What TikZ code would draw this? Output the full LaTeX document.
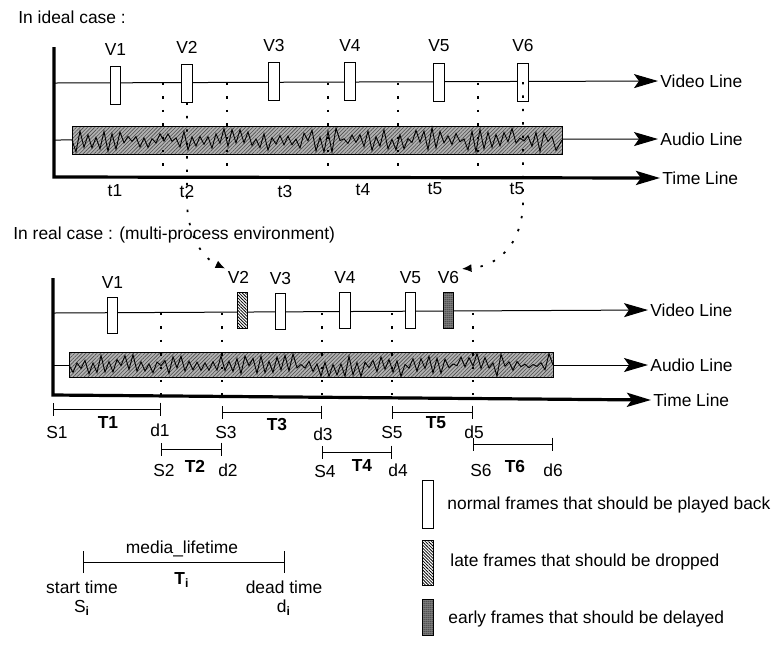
\documentclass[tikz,border=0pt]{standalone}
\usepackage{fontspec}
\setmainfont{Liberation Sans}
\usetikzlibrary{arrows.meta, patterns.meta}

\tikzset{
  txt/.style={font=\fontsize{8.7}{9.4}\selectfont, inner sep=1pt},
  frame/.style={draw, line width=0.5pt, minimum width=5.2pt, minimum height=19pt, inner sep=0pt},
  normalframe/.style={frame, fill=white},
  lateframe/.style={frame, preaction={fill=white}, pattern={Lines[angle=-45, distance=1.1pt, line width=0.4pt]}},
  earlyframe/.style={frame, preaction={fill=black!50}, pattern={Dots[distance=0.9pt, radius=0.28pt]}},
  audiobox/.style={draw, line width=0.5pt, preaction={fill=gray!60}, pattern={Lines[angle=45, distance=1.3pt, line width=0.3pt]}, pattern color=black!70},
  wave/.style={line width=0.45pt, line join=miter},
  thinline/.style={line width=0.5pt, -{Stealth[length=12pt, width=7pt, inset=2.5pt]}},
  axisline/.style={line width=1.6pt, line join=miter, -{Stealth[length=12pt, width=7pt, inset=2.5pt]}},
  divider/.style={line width=0.9pt, dash pattern=on 1.2pt off 5.5pt},
  jump/.style={line width=0.9pt, dash pattern=on 1.2pt off 5.5pt, -{Latex[length=5pt, width=4pt]}},
  span/.style={line width=0.5pt, {Bar[width=6.5pt]}-{Bar[width=6.5pt]}},
  boldtxt/.style={txt, font=\fontsize{8.7}{9.4}\selectfont\bfseries},
}

\begin{document}
\begin{tikzpicture}[x=0.5pt, y=-0.5pt]
    \useasboundingbox (0,0) rectangle (777,645);
    \pgfmathsetseed{11}

    % ---------------- ideal case ----------------
    \node[txt, anchor=west] (ideal) at (16,17) {In ideal case :};
    % Line labels
    \node[txt, anchor=west] (vline1) at (658,81) {Video Line};
    \node[txt, anchor=west] (aline1) at (658,139) {Audio Line};
    \node[txt, anchor=west] (tline1) at (660,178) {Time Line};
    % Lines
    \draw[thinline] (54,83) -- (vline1.west);
    \draw[thinline] (54,140) -- (aline1.west);
    \draw[axisline] (54,47) -- (54,177) -- (tline1.west);
    % Audio stream
    \draw[audiobox] (72,126) rectangle (562,154);
    \draw[wave] (72,140) \foreach \x [count=\k] in {76,80,...,558} {
        -- (\x, {140 + (2*mod(\k,2)-1)*(0.5+12*rnd)}) } -- (562,140);
    % Dividers
    \draw[divider] (163,83) -- (163,177);
    \draw[divider] (227,83) -- (227,177);
    \draw[divider] (328,83) -- (328,177);
    \draw[divider] (398,83) -- (398,177);
    \draw[divider] (478,83) -- (478,177);
    % Time labels
    \node[txt] (t1) at (115,191) {t1};
    \node[txt] (t2) at (187,191) {t2};
    \node[txt] (t3) at (285,191) {t3};
    \node[txt] (t4) at (363,190) {t4};
    \node[txt] (t5) at (435,189) {t5};
    \node[txt] (t5b) at (517,189) {t5};
    % Frames
    \node[normalframe, label={[txt, name=iv1l, label distance=4pt]above:V1}] (iv1) at (115.5,85) {};
    \node[normalframe, label={[txt, name=iv2l, label distance=4pt]above:V2}] (iv2) at (187,83) {};
    \node[normalframe, label={[txt, name=iv3l, label distance=4pt]above:V3}] (iv3) at (274,81.5) {};
    \node[normalframe, label={[txt, name=iv4l, label distance=4pt]above:V4}] (iv4) at (350,81) {};
    \node[normalframe, label={[txt, name=iv5l, label distance=4pt]above:V5}] (iv5) at (439,82) {};
    \node[normalframe, label={[txt, name=iv6l, label distance=4pt]above:V6}] (iv6) at (523,82) {};

    % ---------------- real case ----------------
    \node[txt, anchor=west] (real) at (11,235) {In real case : (multi-process environment)};
    \node[txt, anchor=west] (vline2) at (648,310) {Video Line};
    \node[txt, anchor=west] (aline2) at (648,365) {Audio Line};
    \node[txt, anchor=west] (tline2) at (651,400) {Time Line};
    \draw[thinline] (53,313) -- (vline2.west);
    \draw[thinline] (53,365) -- (aline2.west);
    \draw[axisline] (53,278) -- (53,395) -- (tline2.west);
    % Audio stream
    \draw[audiobox] (69,352) rectangle (553,377);
    \draw[wave] (69,365) \foreach \x [count=\k] in {73,77,...,549} {
        -- (\x, {365 + (2*mod(\k,2)-1)*(0.5+11*rnd)}) } -- (553,365);
    % Dividers
    \draw[divider] (161,313) -- (161,395);
    \draw[divider] (222,313) -- (222,395);
    \draw[divider] (322,313) -- (322,395);
    \draw[divider] (392,313) -- (392,395);
    \draw[divider] (473,313) -- (473,395);
    % Frames
    \node[normalframe, minimum height=18pt, label={[txt, name=rv1l, label distance=3pt]above:V1}] (rv1) at (112.5,315) {};
    \node[lateframe, minimum height=18pt, label={[txt, name=rv2l, label distance=3pt, xshift=-2pt]above:V2}] (rv2) at (242.5,310) {};
    \node[normalframe, minimum height=18pt, label={[txt, name=rv3l, label distance=3pt]above:V3}] (rv3) at (280.5,311.5) {};
    \node[normalframe, minimum height=18pt, label={[txt, name=rv4l, label distance=3pt]above:V4}] (rv4) at (345,310.5) {};
    \node[normalframe, minimum height=18pt, label={[txt, name=rv5l, label distance=3pt]above:V5}] (rv5) at (410.5,310.5) {};
    \node[earlyframe, minimum height=18pt, label={[txt, name=rv6l, label distance=3pt]above:V6}] (rv6) at (448.5,310.5) {};

    % Moved frames
    \draw[jump] (iv2.south) -- (187,205) .. controls (189,238) and (203,258) .. (rv2l.north west);
    \draw[jump] (iv6.center) -- (523,205) .. controls (521,245) and (498,266) .. (rv6l.north east);

    % Media lifetimes
    \draw[span] (53,409) -- (161,409);
    \node[txt] (S1) at (57,432) {S1};
    \node[boldtxt] (T1) at (108,423) {T1};
    \node[txt] (d1) at (160,430) {d1};
    \draw[span] (161,449) -- (222,449);
    \node[txt] (S2) at (164,470) {S2};
    \node[boldtxt] (T2) at (195,466) {T2};
    \node[txt] (d2) at (228,470) {d2};
    \draw[span] (222,412) -- (322,412);
    \node[txt] (S3) at (226,432) {S3};
    \node[boldtxt] (T3) at (277,425) {T3};
    \node[txt] (d3) at (323,434) {d3};
    \draw[span] (322,452) -- (392,452);
    \node[txt] (S4) at (325,471) {S4};
    \node[boldtxt] (T4) at (362,466) {T4};
    \node[txt] (d4) at (398,470) {d4};
    \draw[span] (392,412) -- (473,412);
    \node[txt] (S5) at (392,432) {S5};
    \node[boldtxt] (T5) at (436,423) {T5};
    \node[txt] (d5) at (474,432) {d5};
    \draw[span] (473,444) -- (553,444);
    \node[txt] (S6) at (481,470) {S6};
    \node[boldtxt] (T6) at (515,466) {T6};
    \node[txt] (d6) at (553,470) {d6};

    % ---------------- legend ----------------
    \node[normalframe, minimum height=24pt] (lnormal) at (428,504) {};
    \node[lateframe, minimum height=22.5pt] (llate) at (428,562.5) {};
    \node[earlyframe, minimum height=18pt] (learly) at (428,617) {};
    \node[txt, anchor=west] (tnormal) at (445,505) {normal frames that should be played back};
    \node[txt, anchor=west] (tlate) at (448,562) {late frames that should be dropped};
    \node[txt, anchor=west] (tearly) at (446,619) {early frames that should be delayed};

    % ---------------- general lifetime ----------------
    \draw[span, {Bar[width=11pt]}-{Bar[width=11pt]}] (83,562) -- (285,562);
    \node[txt] (mlife) at (182,549) {media\_lifetime};
    \node[boldtxt] (Ti) at (182,580) {T\textsubscript{i}};
    \node[txt, align=center] (start) at (82,598) {start time\\S\textsubscript{\textbf{i}}};
    \node[txt, align=center] (dead) at (284,598) {dead time\\d\textsubscript{\textbf{i}}};
\end{tikzpicture}
\end{document}
